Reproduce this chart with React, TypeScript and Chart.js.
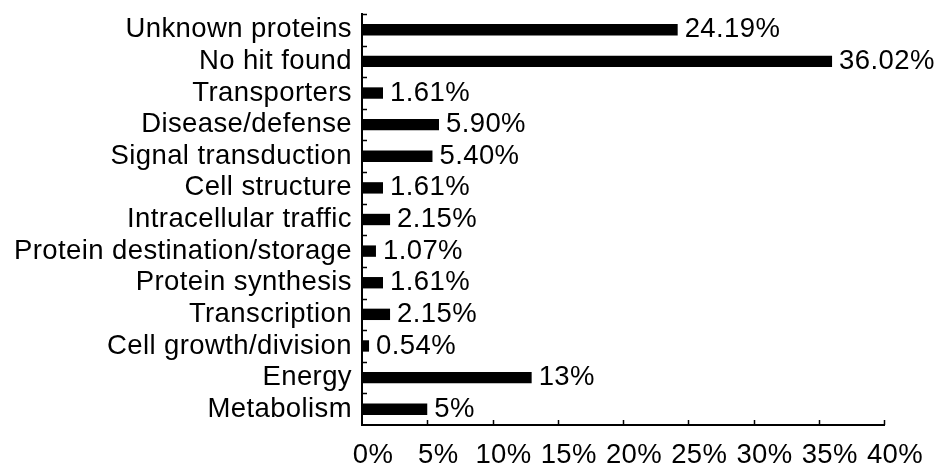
import React, { useEffect, useRef } from 'react';
import { Chart, registerables } from 'chart.js';

Chart.register(...registerables);

const categories = [
  'Unknown proteins',
  'No hit found',
  'Transporters',
  'Disease/defense',
  'Signal transduction',
  'Cell structure',
  'Intracellular traffic',
  'Protein destination/storage',
  'Protein synthesis',
  'Transcription',
  'Cell growth/division',
  'Energy',
  'Metabolism',
];
const values = [24.19, 36.02, 1.61, 5.9, 5.4, 1.61, 2.15, 1.07, 1.61, 2.15, 0.54, 13, 5];
const valueLabels = ['24.19%', '36.02%', '1.61%', '5.90%', '5.40%', '1.61%', '2.15%', '1.07%', '1.61%', '2.15%', '0.54%', '13%', '5%'];
const xMin = 0;
const xMax = 40;
const xStep = 5;

const FONT_FAMILY = '"Liberation Sans", Arial, Helvetica, sans-serif';
const FONT_SIZE = 27.5;
const LETTER_SPACING = '0.4px';

const spacingPlugin = {
  id: 'spacing',
  beforeDraw(chart: any) {
    (chart.ctx as any).letterSpacing = LETTER_SPACING;
  },
};

const inwardTicksPlugin = {
  id: 'inwardTicks',
  afterDraw(chart: any) {
    const { ctx, chartArea } = chart;
    const x = chart.scales.x;
    ctx.save();
    ctx.strokeStyle = '#000';
    ctx.lineWidth = 1.5;
    const n = categories.length;
    const band = (chartArea.bottom - chartArea.top) / n;
    for (let i = 0; i < n; i++) {
      const yy = Math.round(chartArea.top + i * band) + 0.5;
      ctx.beginPath();
      ctx.moveTo(chartArea.left, yy);
      ctx.lineTo(chartArea.left + 5, yy);
      ctx.stroke();
    }
    for (let v = xMin + xStep; v <= xMax; v += xStep) {
      const xx = Math.round(x.getPixelForValue(v)) + 0.5;
      ctx.beginPath();
      ctx.moveTo(xx, chartArea.bottom);
      ctx.lineTo(xx, chartArea.bottom - 5);
      ctx.stroke();
    }
    ctx.restore();
  },
};

const valueLabelPlugin = {
  id: 'valueLabels',
  afterDatasetsDraw(chart: any) {
    const { ctx } = chart;
    const meta = chart.getDatasetMeta(0);
    ctx.save();
    ctx.letterSpacing = LETTER_SPACING;
    ctx.fillStyle = '#000';
    ctx.font = `${FONT_SIZE}px ${FONT_FAMILY}`;
    ctx.textAlign = 'left';
    ctx.textBaseline = 'middle';
    meta.data.forEach((bar: any, i: number) => {
      ctx.fillText(valueLabels[i], bar.x + 7, bar.y);
    });
    ctx.restore();
  },
};

export default function App() {
  const canvasRef = useRef<HTMLCanvasElement | null>(null);

  useEffect(() => {
    if (!canvasRef.current) return;
    Chart.defaults.color = '#000';
    const chart = new Chart(canvasRef.current, {
      type: 'bar',
      data: {
        labels: categories,
        datasets: [
          {
            data: values,
            backgroundColor: '#000',
            borderWidth: 0,
            barPercentage: 0.36,
            categoryPercentage: 1,
          },
        ],
      },
      options: {
        indexAxis: 'y',
        responsive: false,
        animation: false,
        layout: { padding: { top: 14, right: 53, left: 0, bottom: 0 } },
        plugins: {
          legend: { display: false },
          tooltip: { enabled: false },
        },
        scales: {
          x: {
            min: xMin,
            max: xMax,
            afterFit: (s: any) => {
              s.height = 41;
              s.paddingLeft = 0;
              s.paddingRight = 0;
              s.paddingTop = 0;
              s.paddingBottom = 0;
            },
            border: { display: true, color: '#000', width: 2 },
            grid: { drawOnChartArea: false, drawTicks: false },
            ticks: {
              stepSize: xStep,
              padding: 14,
              labelOffset: 11,
              maxRotation: 0,
              autoSkip: false,
              color: '#000',
              font: { family: FONT_FAMILY, size: FONT_SIZE },
              callback: (v: any) => `${v}%`,
            },
          },
          y: {
            afterFit: (s: any) => {
              s.width = 362;
              s.paddingLeft = 0;
              s.paddingRight = 0;
              s.paddingTop = 0;
              s.paddingBottom = 0;
            },
            border: { display: true, color: '#000', width: 2 },
            grid: { drawOnChartArea: false, drawTicks: false },
            ticks: {
              padding: 10,
              autoSkip: false,
              color: '#000',
              font: { family: FONT_FAMILY, size: FONT_SIZE },
            },
          },
        },
      },
      plugins: [spacingPlugin, inwardTicksPlugin, valueLabelPlugin],
    });
    return () => chart.destroy();
  }, []);

  return (
    <div style={{ position: 'fixed', left: 0, top: 0, width: 937, height: 466, background: '#fff' }}>
      <canvas ref={canvasRef} width={937} height={466} />
    </div>
  );
}
